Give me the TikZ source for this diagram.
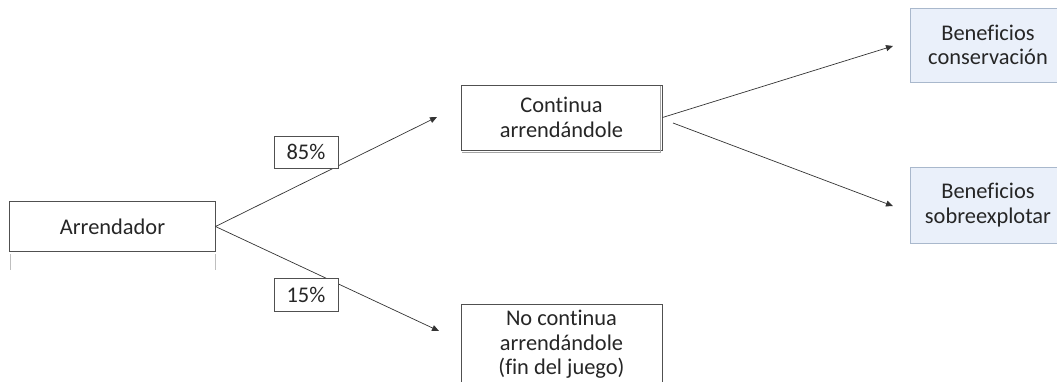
\documentclass[tikz,border=0pt]{standalone}
\usepackage{fontspec}
\setmainfont{Carlito}[Ligatures=NoCommon]
\usetikzlibrary{arrows.meta}
\definecolor{boxline}{HTML}{505050}
\definecolor{bluefill}{HTML}{EAF0FA}
\definecolor{blueline}{HTML}{A9B8CC}
\tikzset{
  plainbox/.style={draw=boxline, line width=1bp, fill=white, align=center, inner sep=0pt, font=\fontsize{22.5}{24.5}\selectfont, text=black!85},
  bluebox/.style={draw=blueline, line width=1bp, fill=bluefill, align=center, inner sep=0pt, font=\fontsize{22.5}{24.5}\selectfont, text=black!85},
  pctbox/.style={draw=boxline, line width=0.8bp, fill=white, inner sep=0pt, font=\fontsize{22.5}{24.5}\selectfont, text=black!85},
  conn/.style={draw=black!80, line width=0.7bp, -{Triangle[length=7bp,width=6bp]}},
  edgeshade/.style={draw=black!35, line width=1bp}
}
\begin{document}
\begin{tikzpicture}[x=1bp,y=-1bp]
\useasboundingbox (0,0) rectangle (1057,381);
% shadow edges
\draw[black!25, line width=0.8bp] (10,254) -- (10,270);
\draw[black!25, line width=0.8bp] (215,254) -- (215,270);
\node[plainbox, minimum width=205bp, minimum height=50bp] (arr) at (112.5,226.5) {Arrendador};
\node[plainbox, minimum width=201bp, minimum height=65bp] (cont) at (561.5,117.5) {Continua\\arrendándole};
\draw[edgeshade] ([xshift=-1.6bp,yshift=-1bp]cont.north east) -- ([xshift=-1.6bp,yshift=-1.6bp]cont.south east) -- ([xshift=1bp,yshift=-1.6bp]cont.south west);
\node[plainbox, minimum width=201bp, minimum height=80bp, anchor=north] (nocont) at (561.5,304) {No continua\\arrendándole\\(fin del juego)};
\node[bluebox, minimum width=152bp, minimum height=74bp, anchor=west] (bcons) at (910,45) {\hspace*{3bp}Beneficios\\\hspace*{3bp}conservación};
\node[bluebox, minimum width=152bp, minimum height=76bp, anchor=west] (bsob) at (910,205) {\hspace*{3bp}Beneficios\\\hspace*{3bp}sobreexplotar};
\coordinate (t1) at (437,117);
\coordinate (t2) at (439,331);
\coordinate (s2) at (673,123);
\coordinate (t3) at (893,46);
\coordinate (t4) at (893,206);
\draw[conn] (arr.east) -- (t1);
\draw[conn] (arr.east) -- (t2);
\draw[conn] (cont.east) -- (t3);
\draw[conn] (s2) -- (t4);
\node[pctbox, minimum width=64bp, minimum height=32bp] (p85) at (306,152) {85\%};
\node[pctbox, minimum width=64bp, minimum height=33bp] (p15) at (306,294.5) {15\%};
\end{tikzpicture}
\end{document}
